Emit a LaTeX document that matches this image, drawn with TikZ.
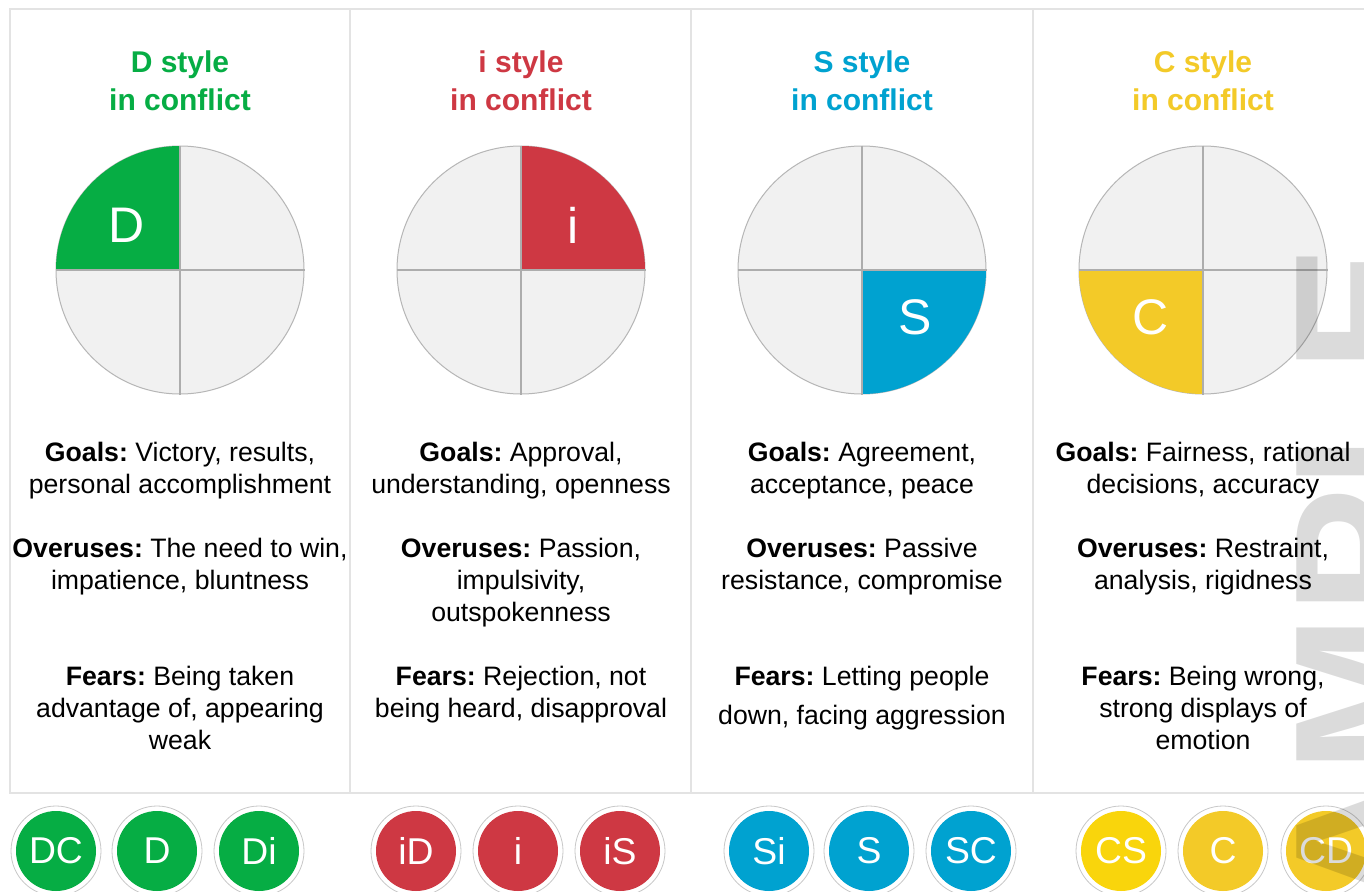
\documentclass[tikz,border=0pt]{standalone}
\usepackage{fontspec}
\setmainfont{Liberation Sans}
\usepackage{xcolor}
\usetikzlibrary{calc, positioning}
\frenchspacing

\definecolor{discD}{RGB}{6,173,68}
\definecolor{discI}{RGB}{206,56,67}
\definecolor{discS}{RGB}{0,162,208}
\definecolor{discC}{RGB}{243,202,40}
\definecolor{discCS}{RGB}{249,213,12}
\definecolor{pieFill}{RGB}{241,241,241}
\definecolor{pieLine}{RGB}{182,182,182}
\definecolor{divLine}{RGB}{173,173,173}
\definecolor{frameLine}{RGB}{227,227,227}
\definecolor{ringLine}{RGB}{200,200,200}

\tikzset{
	styletitle/.style={anchor=north, inner sep=0pt, align=center, font=\fontsize{22.5}{28.5}\selectfont\bfseries},
	styletext/.style={anchor=north, inner sep=0pt, align=center, font=\fontsize{20}{24}\selectfont},
	pie/.style={circle, inner sep=0pt, minimum size=186pt, fill=pieFill, draw=pieLine, line width=0.75pt},
	divider/.style={divLine, line width=1.5pt},
	quadletter/.style={text=white, inner sep=0pt, font=\fontsize{37.5}{38}\selectfont},
	badgering/.style={circle, inner sep=0pt, minimum size=67.5pt, draw=ringLine, line width=0.6pt, fill=white},
	badge/.style={circle, inner sep=0pt, minimum size=60pt, text=white, font=\fontsize{28}{30}\selectfont},
}

% ring and coloured disc of one style blend
\newcommand{\discbadge}[4]{%
	\node[badgering] (ring#1) at (#2,851) {};
	\node[badge, fill=#3] (badge#1) at (ring#1.center) {#4};
}

\begin{document}
\begin{tikzpicture}[x=0.75pt, y=-0.75pt]
	\def\yPie{270};
	\def\rPie{93pt};
	\def\yGoals{442};
	\def\yOver{537.5};
	\def\yFears{666};

	\useasboundingbox (0,0) rectangle (1364,892);
	\fill[white] (0,0) rectangle (1364,892);
	\clip (0,0) rectangle (1364,892);

	% frame and columns
	\begin{scope}[frameLine, line width=1.5pt]
		\draw (10,9) rectangle (1380,793);
		\draw (350,9) -- (350,793);
		\draw (691,9) -- (691,793);
		\draw (1033,9) -- (1033,793);
	\end{scope}

	% D column
	\begin{scope}
		\node[styletitle, text=discD] (titleD) at (180,50) {D style\\in conflict};
		\node[pie] (pieD) at (180,\yPie) {};
		\fill[discD] (pieD.center) -- ++(-\rPie,0) arc[start angle=180, end angle=90, radius=\rPie] -- cycle;
		\draw[divider] (pieD.west) -- (pieD.east) (pieD.north) -- (pieD.south);
		\node[quadletter] (letterD) at ($(pieD.center)+(-53,-45)$) {D};
		\node[styletext] (goalsD) at (180,\yGoals) {\textbf{Goals:} Victory, results,\\personal accomplishment};
		\node[styletext] (overD) at (180,\yOver) {\textbf{Overuses:} The need to win,\\impatience, bluntness};
		\node[styletext] (fearsD) at (180,\yFears) {\textbf{Fears:} Being taken\\advantage of, appearing\\weak};
	\end{scope}

	% i column
	\begin{scope}
		\node[styletitle, text=discI] (titleI) at (521,50) {i style\\in conflict};
		\node[pie] (pieI) at (521,\yPie) {};
		\fill[discI] (pieI.center) -- ++(\rPie,0) arc[start angle=0, end angle=90, radius=\rPie] -- cycle;
		\draw[divider] (pieI.west) -- (pieI.east) (pieI.north) -- (pieI.south);
		\node[quadletter] (letterI) at ($(pieI.center)+(52,-45)$) {i};
		\node[styletext] (goalsI) at (521,\yGoals) {\textbf{Goals:} Approval,\\understanding, openness};
		\node[styletext] (overI) at (521,\yOver) {\textbf{Overuses:} Passion,\\impulsivity,\\outspokenness};
		\node[styletext] (fearsI) at (521,\yFears) {\textbf{Fears:} Rejection, not\\being heard, disapproval};
	\end{scope}

	% S column
	\begin{scope}
		\node[styletitle, text=discS] (titleS) at (862,50) {S style\\in conflict};
		\node[pie] (pieS) at (862,\yPie) {};
		\fill[discS] (pieS.center) -- ++(\rPie,0) arc[start angle=0, end angle=-90, radius=\rPie] -- cycle;
		\draw[divider] (pieS.west) -- (pieS.east) (pieS.north) -- (pieS.south);
		\node[quadletter] (letterS) at ($(pieS.center)+(53,47)$) {S};
		\node[styletext] (goalsS) at (862,\yGoals) {\textbf{Goals:} Agreement,\\acceptance, peace};
		\node[styletext] (overS) at (862,\yOver) {\textbf{Overuses:} Passive\\resistance, compromise};
		\node[styletext] (fearsS) at (862,\yFears) {\textbf{Fears:} Letting people\\[5pt]down, facing aggression};
	\end{scope}

	% C column
	\begin{scope}
		\node[styletitle, text=discC] (titleC) at (1203,50) {C style\\in conflict};
		\node[pie] (pieC) at (1203,\yPie) {};
		\fill[discC] (pieC.center) -- ++(-\rPie,0) arc[start angle=180, end angle=270, radius=\rPie] -- cycle;
		\draw[divider] (pieC.west) -- (pieC.east) (pieC.north) -- (pieC.south);
		\node[quadletter] (letterC) at ($(pieC.center)+(-52,47)$) {C};
		\node[styletext] (goalsC) at (1203,\yGoals) {\textbf{Goals:} Fairness, rational\\decisions, accuracy};
		\node[styletext] (overC) at (1203,\yOver) {\textbf{Overuses:} Restraint,\\analysis, rigidness};
		\node[styletext] (fearsC) at (1203,\yFears) {\textbf{Fears:} Being wrong,\\strong displays of\\emotion};
	\end{scope}

	% blends along the bottom
	\discbadge{DC}{56}{discD}{DC}
	\discbadge{DD}{157}{discD}{D}
	\discbadge{Di}{259}{discD}{Di}
	\discbadge{iD}{416}{discI}{iD}
	\discbadge{ii}{518}{discI}{i}
	\discbadge{iS}{620}{discI}{iS}
	\discbadge{Si}{769}{discS}{Si}
	\discbadge{SS}{869}{discS}{S}
	\discbadge{SC}{971}{discS}{SC}
	\discbadge{CS}{1121}{discCS}{CS}
	\discbadge{CC}{1223}{discC}{C}
	\discbadge{CD}{1326}{discC}{CD}

	% watermark
	\node[rotate=90, anchor=base east, inner sep=0pt, text=black, text opacity=0.14,
		font=\fontsize{142.5}{142.5}\selectfont\bfseries] (stamp) at (1427,245) {SAMPLE};
\end{tikzpicture}
\end{document}
